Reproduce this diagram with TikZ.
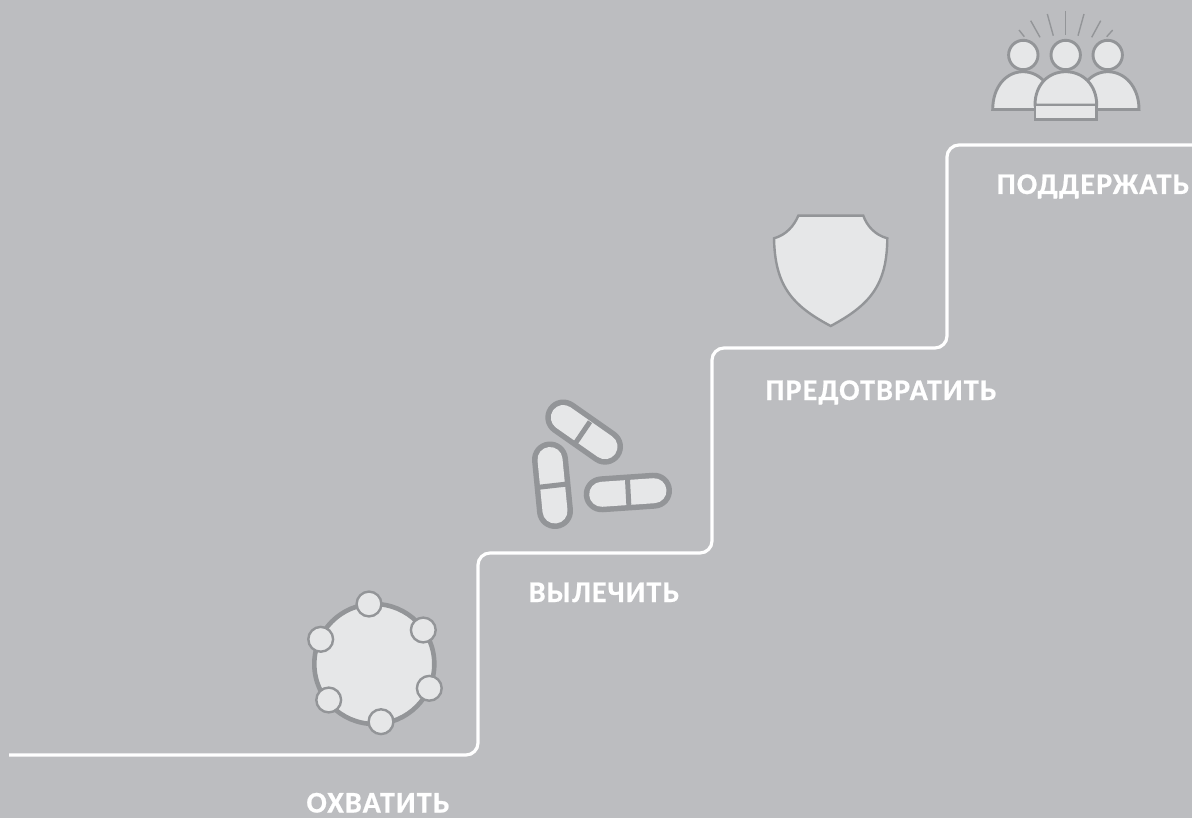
\documentclass[tikz,border=0pt]{standalone}
\usepackage{fontspec}
\setmainfont{Carlito}
\newfontfamily\labelfont[LetterSpace=4,FakeBold=0.7]{Carlito Bold}
\definecolor{bgc}{HTML}{BCBDC0}
\definecolor{iconfill}{HTML}{E6E7E8}
\definecolor{iconline}{HTML}{939598}
\tikzset{
  stair/.style={draw=white,line width=3.2pt,rounded corners=12pt},
  steplabel/.style={text=white,font=\labelfont\fontsize{30}{34}\selectfont,inner sep=0pt,anchor=base},
  icon/.style={draw=iconline,fill=iconfill,line width=2.9pt,line join=miter},
  rayline/.style={draw=iconline,line width=1.4pt},
  bigring/.style={draw=iconline,fill=iconfill,line width=4.6pt},
  dot/.style={draw=iconline,fill=iconfill,line width=2.4pt},
  pillout/.style={draw=iconline,line width=36pt,line cap=round},
  pillin/.style={draw=iconfill,line width=25pt,line cap=round},
  pilldiv/.style={draw=iconline,line width=5pt},
}
\begin{document}
\begin{tikzpicture}[x=1pt,y=-1pt]
\path[fill=bgc] (0,0) rectangle (1192,818);
\useasboundingbox (0,0) rectangle (1192,818);
% stairs
\draw[stair] (9,755) -- (478,755) -- (478,553) -- (712,553) -- (712,348) -- (947,348) -- (947,145) -- (1194,145);
% labels
\node[steplabel] (l1) at (378,812.5) {ОХВАТИТЬ};
\node[steplabel] (l2) at (604,602) {ВЫЛЕЧИТЬ};
\node[steplabel] (l3) at (881,400) {ПРЕДОТВРАТИТЬ};
\node[steplabel] (l4) at (1093,194) {ПОДДЕРЖАТЬ};
% ring
\draw[bigring] (374.3,664) circle (60);
\foreach \p in {(369,604),(423.3,630),(429.3,688.3),(381,721.7),(328.7,700),(320.7,639.3)}
  \draw[dot] \p circle (12.4);
% pills
\draw[pillout] (563.3,417.5) -- (605,446.7);
\draw[pillin] (563.3,417.5) -- (605,446.7);
\draw[pilldiv] (590,421.7) -- (576,442.3);
\draw[pillout] (550,459.5) -- (555,511);
\draw[pillin] (550,459.5) -- (555,511);
\draw[pilldiv] (538.3,487.3) -- (567.3,484);
\draw[pillout] (601.7,494.3) -- (654,490.7);
\draw[pillin] (601.7,494.3) -- (654,490.7);
\draw[pilldiv] (627.3,476) -- (629,508.3);
% shield
\draw[icon,line width=2.4pt] (798.3,215.7) -- (863.3,215.7)
  .. controls (867,226) and (875,235) .. (887.3,238.3)
  .. controls (887,285) and (870,305) .. (830.7,326)
  .. controls (791,305) and (775,285) .. (774,238.3)
  .. controls (786,235) and (794,226) .. (798.3,215.7) -- cycle;
% people
\foreach \a/\b/\c/\d in {1019/30/1024.3/36.7, 1030.7/20.7/1040/37.3, 1047.3/14/1053.3/35.7, 1065.7/11/1065.7/35, 1084/14/1078/35.7, 1100.7/20.7/1091.7/37.3, 1112.7/30/1106.7/36.7}
  \draw[rayline] (\a,\b) -- (\c,\d);
\draw[icon] (992.7,109.5) .. controls (992.7,87) and (1006,71.7) .. (1023,71.7)
  .. controls (1040,71.7) and (1054,87) .. (1054,109.5) -- cycle;
\draw[icon] (1139,109.5) .. controls (1139,87) and (1125,71.7) .. (1107.7,71.7)
  .. controls (1091,71.7) and (1077,87) .. (1077,109.5) -- cycle;
\draw[icon] (1035,105) .. controls (1035,85) and (1048,71.7) .. (1065.7,71.7)
  .. controls (1083,71.7) and (1096.7,85) .. (1096.7,105) -- cycle;
\draw[icon] (1035,105) rectangle (1096.7,119.3);
\draw[icon] (1023.3,55) circle (14.7);
\draw[icon] (1065.7,55) circle (14.7);
\draw[icon] (1107.7,55) circle (14.7);
\end{tikzpicture}
\end{document}
